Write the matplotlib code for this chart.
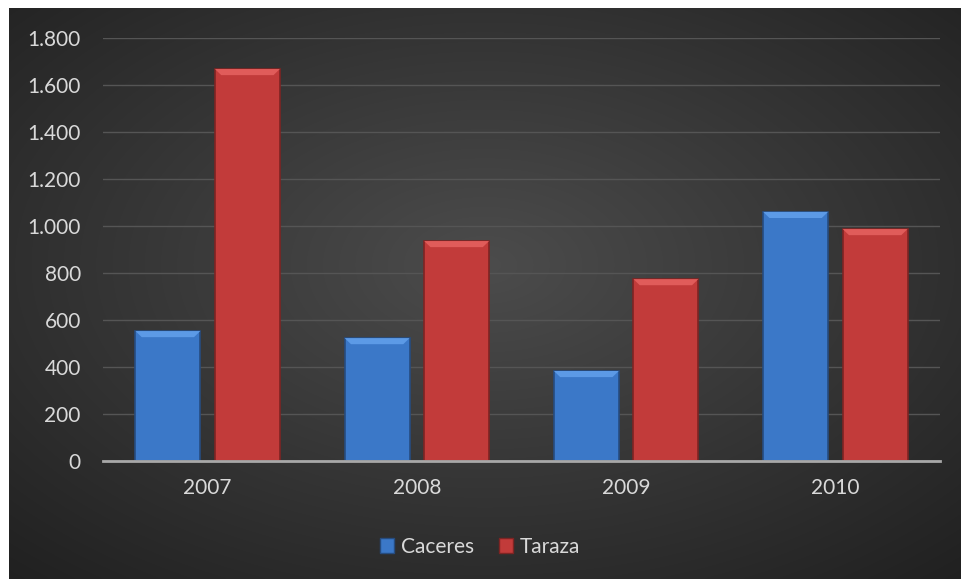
import numpy as np
import matplotlib.pyplot as plt
from matplotlib.patches import Polygon, Patch

years = ["2007", "2008", "2009", "2010"]
caceres = [553, 523, 383, 1060]
taraza = [1668, 936, 774, 987]
yticks = [0, 200, 400, 600, 800, 1000, 1200, 1400, 1600, 1800]
ylabels = ["0", "200", "400", "600", "800", "1.000", "1.200", "1.400", "1.600", "1.800"]

plt.rcParams["font.family"] = ["Lato", "DejaVu Sans"]
txt = "#d9d9d9"

fig = plt.figure(figsize=(9.61, 5.79), dpi=100)
fig.patch.set_facecolor("white")

# dark panel with radial gradient
bg = fig.add_axes([9 / 961, 0, 952 / 961, 571 / 579])
yy, xx = np.mgrid[0:1:300j, 0:1:500j]
r = np.sqrt(((xx - 0.5) / 0.75) ** 2 + ((yy - 0.45) / 0.75) ** 2)
r = np.clip(r, 0, 1)
c0 = np.array([0x4c, 0x4c, 0x4c]) / 255
c1 = np.array([0x20, 0x20, 0x20]) / 255
img = c0[None, None, :] * (1 - r[..., None]) + c1[None, None, :] * r[..., None]
bg.imshow(img, aspect="auto", extent=[0, 1, 0, 1], interpolation="bilinear")
bg.axis("off")

ax = fig.add_axes([103 / 961, 118 / 579, 837 / 961, 423 / 579])
ax.patch.set_alpha(0)

x = np.arange(len(years))
w = 0.31
off = 0.19

def bevel_bars(xs, vals, main, light, edge):
    ax.bar(xs, vals, w, color=main, edgecolor=edge, linewidth=1.2, zorder=3)
    dx = 0.03
    dy = 26
    for xi, v in zip(xs, vals):
        l, rr = xi - w / 2, xi + w / 2
        poly = Polygon([(l, v), (rr, v), (rr - dx, v - dy), (l + dx, v - dy)],
                       closed=True, facecolor=light, edgecolor="none", zorder=4)
        ax.add_patch(poly)

bevel_bars(x - off, caceres, "#3b78c8", "#5c9ae6", "#264c80")
bevel_bars(x + off, taraza, "#c23b3a", "#e05c5a", "#7e2423")

ax.set_xlim(-0.5, 3.5)
ax.set_ylim(0, 1800)
ax.set_yticks(yticks)
ax.set_yticklabels(ylabels)
ax.set_xticks(x)
ax.set_xticklabels(years)
ax.tick_params(axis="both", length=0, colors=txt, labelsize=15)
ax.tick_params(axis="y", pad=16)
ax.tick_params(axis="x", pad=12)
ax.grid(axis="y", color="#555555", linewidth=1, zorder=0)
for s in ["top", "right", "left"]:
    ax.spines[s].set_visible(False)
ax.spines["bottom"].set_color("#a8a8a8")
ax.spines["bottom"].set_linewidth(2)
ax.spines["bottom"].set_zorder(5)

handles = [Patch(facecolor="#3b78c8", edgecolor="#264c80", label="Caceres"),
           Patch(facecolor="#c23b3a", edgecolor="#7e2423", label="Taraza")]
fig.legend(handles=handles, loc="center", bbox_to_anchor=(480 / 961, 1 - 547 / 579),
           ncol=2, frameon=False, fontsize=15, labelcolor=txt,
           handlelength=0.7, handleheight=0.7, handletextpad=0.3, columnspacing=1.2)

fig.savefig("out.png", dpi=100)
